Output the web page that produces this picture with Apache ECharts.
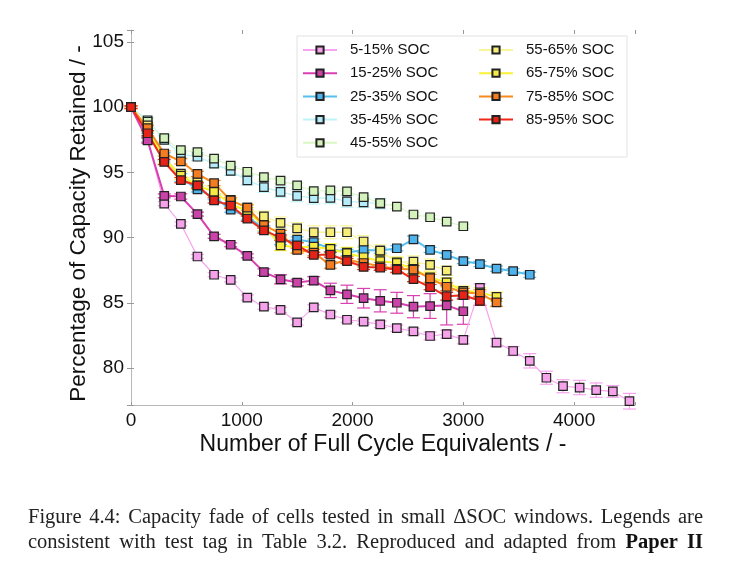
<!DOCTYPE html>
<html>
<head>
<meta charset="utf-8">
<script src="https://cdn.jsdelivr.net/npm/echarts@6/dist/echarts.min.js"></script>
<style>
  html, body { margin: 0; padding: 0; background: #fff; }
  #chart { width: 755px; height: 577px; }
</style>
</head>
<body>
<div id="chart"></div>
<script>
// cycle points, every 150 full cycle equivalents
const cycles = [0, 150, 300, 450, 600, 750, 900, 1050, 1200, 1350, 1500, 1650, 1800, 1950, 2100,
  2250, 2400, 2550, 2700, 2850, 3000, 3150, 3300, 3450, 3600, 3750, 3900, 4050, 4200, 4350, 4500]

const names = ['5-15% SOC', '15-25% SOC', '25-35% SOC', '35-45% SOC', '45-55% SOC',
  '55-65% SOC', '65-75% SOC', '75-85% SOC', '85-95% SOC']

// capacity retained, %
const soc5_15 = [100, 97.5, 92.6, 91.05, 88.55, 87.15, 86.75, 85.4, 84.7, 84.45, 83.5, 84.65, 84.1, 83.7, 83.55,
  83.35, 83.05, 82.8, 82.45, 82.6, 82.15, 86.15, 81.95, 81.3, 80.55, 79.25, 78.6, 78.5, 78.3, 78.2, 77.45]
const soc15_25 = [100, 97.45, 93.2, 93.15, 91.8, 90.1, 89.45, 88.6, 87.35, 86.8, 86.55, 86.7, 85.95, 85.65, 85.35,
  85.15, 85.0, 84.7, 84.75, 84.8, 84.35]
const soc25_35 = [100, 98.2, 96.2, 94.6, 93.7, 93.1, 92.15, 91.6, 90.7, 89.65, 89.85, 89.65, 89.13, 88.85, 89.05,
  89.0, 89.18, 89.87, 89.06, 88.67, 88.2, 87.97, 87.62, 87.42, 87.15]
const soc35_45 = [100, 99.0, 97.5, 96.4, 96.2, 95.67, 95.12, 94.38, 93.87, 93.5, 93.2, 93.02, 93.05, 92.77, 92.7, 92.6]
const soc45_55 = [100, 98.9, 97.62, 96.7, 96.55, 96.05, 95.52, 95.05, 94.63, 94.37, 94.0, 93.56, 93.62, 93.54, 93.1,
  92.65, 92.38, 91.77, 91.56, 91.23, 90.87]
const soc55_65 = [100, 98.6, 96.1, 94.9, 94.25, 93.67, 92.9, 92.3, 91.63, 91.13, 90.7, 90.41, 90.41, 90.41, 89.7,
  89.0, 88.1, 88.15, 87.9, 87.46]
const soc65_75 = [100, 98.3, 96.0, 94.75, 94.0, 93.5, 92.6, 92.0, 90.9, 89.4, 89.26, 89.3, 89.13, 88.8, 88.49,
  88.2, 88.05, 87.6, 86.95, 86.56, 85.92, 85.8, 85.46]
const soc75_85 = [100, 98.4, 96.45, 95.85, 94.88, 94.18, 92.85, 92.3, 90.95, 90.3, 89.05, 88.85, 87.9, 88.3, 88.05,
  87.8, 87.6, 87.55, 86.88, 86.23, 85.8, 85.7, 85.03]
const soc85_95 = [100, 98.0, 95.8, 94.4, 94.0, 92.85, 92.45, 91.45, 90.55, 90.0, 89.4, 88.67, 88.7, 88.2, 87.75,
  87.7, 87.54, 86.82, 86.2, 85.5, 85.58, 85.15]

// error bar half widths, %
const err5_15 = [0.1, 0.15, 0.15, 0.15, 0.15, 0.15, 0.15, 0.2, 0.2, 0.2, 0.2, 0.2, 0.2, 0.2, 0.2,
  0.25, 0.25, 0.25, 0.3, 0.3, 0.3, 0.3, 0.3, 0.35, 0.55, 0.5, 0.5, 0.55, 0.55, 0.45, 0.6]
const err15_25 = [0.1, 0.2, 0.15, 0.2, 0.15, 0.15, 0.15, 0.15, 0.25, 0.35, 0.25, 0.3, 0.55, 0.7, 0.75,
  0.85, 0.8, 0.85, 0.95, 1.5, 1.0]
const err25_35 = [0.1, 0.2, 0.3, 0.3, 0.2, 0.2, 0.2, 0.25, 0.2, 0.2, 0.2, 0.25, 0.25, 0.25, 0.2,
  0.2, 0.2, 0.25, 0.2, 0.2, 0.2, 0.2, 0.2, 0.2, 0.2]
const err35_45 = [0.1, 0.2, 0.3, 0.25, 0.3, 0.3, 0.35, 0.35, 0.4, 0.4, 0.45, 0.45, 0.45, 0.45, 0.4, 0.4]
const err45_55 = [0.1, 0.2, 0.3, 0.2, 0.2, 0.2, 0.2, 0.2, 0.2, 0.2, 0.2, 0.2, 0.2, 0.2, 0.15,
  0.15, 0.15, 0.15, 0.15, 0.15, 0.15]
const err55_65 = [0.1, 0.2, 0.2, 0.25, 0.3, 0.3, 0.3, 0.3, 0.4, 0.45, 0.45, 0.5, 0.5, 0.5, 0.45,
  0.45, 0.45, 0.45, 0.45, 0.35]
const err65_75 = [0.1, 0.2, 0.3, 0.3, 0.3, 0.3, 0.3, 0.3, 0.35, 0.4, 0.4, 0.4, 0.4, 0.45, 0.45,
  0.45, 0.4, 0.4, 0.4, 0.35, 0.35, 0.35, 0.35]
const err75_85 = [0.1, 0.2, 0.2, 0.2, 0.2, 0.2, 0.2, 0.2, 0.25, 0.25, 0.25, 0.25, 0.25, 0.25, 0.3,
  0.3, 0.3, 0.3, 0.3, 0.3, 0.3, 0.3, 0.3]
const err85_95 = [0.1, 0.2, 0.2, 0.2, 0.2, 0.2, 0.2, 0.2, 0.2, 0.2, 0.2, 0.2, 0.2, 0.2, 0.2,
  0.2, 0.2, 0.2, 0.2, 0.3, 0.3, 0.35]

const values = [soc5_15, soc15_25, soc25_35, soc35_45, soc45_55, soc55_65, soc65_75, soc75_85, soc85_95]
const errors = [err5_15, err15_25, err25_35, err35_45, err45_55, err55_65, err65_75, err75_85, err85_95]

const lineColors = ['#f7a4ee', '#d83fb0', '#55bff0', '#bdf3f8', '#daf7c4', '#faf59a', '#f9f230', '#f98a1e', '#ee2a1a']
const fillColors = ['#f5a2ea', '#c943a9', '#4eb2ec', '#b4ecfa', '#d4f3bc', '#f7ee78', '#f8ea45', '#f47d22', '#e52318']
const lineWidths = [1.2, 2, 2, 1.3, 1, 1.3, 2, 2, 2]

// caption, justified between x=28 and x=703 like the LaTeX page
const captionLine1 = 'Figure 4.4: Capacity fade of cells tested in small \u0394SOC windows. Legends are'
const captionLine2 = 'consistent with test tag in Table 3.2. Reproduced and adapted from'
const captionBold = 'Paper II'

const FONT = 'Liberation Sans'
const SERIF = '20.5px "Liberation Serif"'
const SERIF_BOLD = 'bold 20.5px "Liberation Serif"'

const measureCtx = document.createElement('canvas').getContext('2d')

const justify = (words, top) => {
  const widths = words.map(w => {
    measureCtx.font = w.bold ? SERIF_BOLD : SERIF
    return measureCtx.measureText(w.t).width
  })
  const total = widths.reduce((a, b) => a + b, 0)
  const gap = (703 - 28 - total) / (words.length - 1)
  let x = 28
  return words.map((w, i) => {
    const el = {
      type: 'text',
      x: x,
      y: top,
      style: { text: w.t, font: w.bold ? SERIF_BOLD : SERIF, fill: w.bold ? '#111' : '#222' }
    }
    x += widths[i] + gap
    return el
  })
}

const toWords = (s, bold) => s.split(' ').map(t => ({ t, bold }))

const errorSeries = (k) => ({
  name: 'err' + k,
  type: 'custom',
  z: 2,
  silent: true,
  encode: { x: 0, y: [1, 2] },
  data: values[k].map((v, i) => [cycles[i], v - errors[k][i], v + errors[k][i]]),
  renderItem: (params, api) => {
    const lo = api.coord([api.value(0), api.value(1)])
    const hi = api.coord([api.value(0), api.value(2)])
    const w = 6.5
    const style = { stroke: lineColors[k], lineWidth: 1.2 }
    return {
      type: 'group',
      children: [
        { type: 'line', shape: { x1: lo[0], y1: lo[1], x2: hi[0], y2: hi[1] }, style },
        { type: 'line', shape: { x1: lo[0] - w, y1: lo[1], x2: lo[0] + w, y2: lo[1] }, style },
        { type: 'line', shape: { x1: hi[0] - w, y1: hi[1], x2: hi[0] + w, y2: hi[1] }, style }
      ]
    }
  }
})

const lineSeries = (k) => ({
  name: names[k],
  type: 'line',
  z: 3,
  symbol: 'rect',
  symbolSize: 8.5,
  showAllSymbol: true,
  animation: false,
  lineStyle: { color: lineColors[k], width: lineWidths[k] },
  itemStyle: { color: fillColors[k], borderColor: '#222', borderWidth: 1.2 },
  data: values[k].map((v, i) => [cycles[i], v])
})

const series = []
values.forEach((_, k) => {
  series.push(errorSeries(k))
  series.push(lineSeries(k))
})

const legendBase = {
  orient: 'vertical',
  top: 42.5,
  itemWidth: 34,
  itemHeight: 9,
  itemGap: 8.2,
  padding: 0,
  selectedMode: false,
  textStyle: { fontFamily: FONT, fontSize: 15, color: '#111', padding: [0, 0, 0, 8] }
}

const chart = echarts.init(document.getElementById('chart'), null, { renderer: 'canvas' })

chart.setOption({
  animation: false,
  backgroundColor: '#fff',
  textStyle: { fontFamily: FONT },
  grid: { left: 131, right: 120, top: 30, bottom: 172 },
  legend: [
    Object.assign({}, legendBase, { left: 302, data: names.slice(0, 5) }),
    Object.assign({}, legendBase, { left: 478, data: names.slice(5) })
  ],
  xAxis: [
    {
      type: 'value',
      min: 0,
      max: 4550,
      position: 'bottom',
      splitLine: { show: false },
      axisLine: { show: true, lineStyle: { color: '#b8b8b8', width: 1 } },
      axisTick: { show: true, inside: true, length: 3, lineStyle: { color: '#999' } },
      axisLabel: {
        fontSize: 19, color: '#111', margin: 6, fontFamily: FONT,
        formatter: v => (v % 1000 === 0 ? String(v) : '')
      },
      name: 'Number of Full Cycle Equivalents / -',
      nameLocation: 'middle',
      nameGap: 28,
      nameMoveOverlap: false,
      nameTextStyle: { fontSize: 23, color: '#111', fontFamily: FONT }
    },
    {
      type: 'value',
      min: 0,
      max: 4550,
      position: 'top',
      splitLine: { show: false },
      axisLine: { show: false },
      axisTick: { show: true, inside: true, length: 4, lineStyle: { color: '#999' } },
      axisLabel: { show: false }
    }
  ],
  yAxis: [
    {
      type: 'value',
      min: 77.16,
      max: 105.92,
      position: 'left',
      splitLine: { show: false },
      axisLine: { show: true, lineStyle: { color: '#b8b8b8', width: 1 } },
      axisTick: { show: true, inside: true, length: 3, lineStyle: { color: '#999' } },
      axisLabel: {
        fontSize: 19, color: '#111', margin: 7, fontFamily: FONT,
        formatter: v => (Math.abs(v % 5) < 1e-6 ? String(v) : '')
      },
      name: 'Percentage of Capacity Retained / -',
      nameLocation: 'middle',
      nameRotate: 90,
      nameGap: 41,
      nameMoveOverlap: false,
      nameTextStyle: { fontSize: 22.5, color: '#111', fontFamily: FONT, padding: [0, 12, 0, 0] }
    },
    {
      type: 'value',
      min: 77.16,
      max: 105.92,
      position: 'right',
      splitLine: { show: false },
      axisLine: { show: false },
      axisTick: { show: true, inside: true, length: 4, lineStyle: { color: '#999' } },
      axisLabel: { show: false }
    }
  ],
  graphic: [
    {
      type: 'rect',
      z: 1,
      shape: { x: 297, y: 36, width: 330, height: 121 },
      style: { fill: '#fff', stroke: '#e2e2e2', lineWidth: 1 }
    }
  ]
    .concat(justify(toWords(captionLine1, false), 507))
    .concat(justify(toWords(captionLine2, false).concat(toWords(captionBold, true)), 532)),
  series
})
</script>
</body>
</html>
